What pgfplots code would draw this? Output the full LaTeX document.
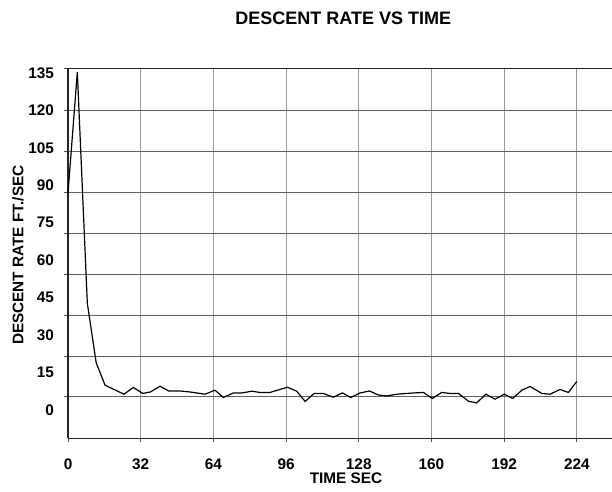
\documentclass[border=0pt]{standalone}
\usepackage{fontspec}
\setmainfont{Liberation Sans}
\usepackage{pgfplots}
\pgfplotsset{compat=1.18}

\begin{document}
\begin{tikzpicture}
\begin{axis}[
    x=1.703pt, y=1.874pt,
    xmin=0, xmax=239.5,
    ymin=-11.3, ymax=136.8,
    axis x line=box, axis y line=left,
    axis line style={-, black!85, line width=0.8pt},
    xtick={0,32,...,224},
    xtick pos=bottom,
    ytick={0,15,...,135},
    minor ytick={5.3,21.6,38.0,54.4,70.7,87.1,103.7,120.1,136.8},
    major y tick style={draw=none},
    tick align=outside,
    major tick length=3pt, minor tick length=3pt,
    tick style={black!70, line width=0.7pt},
    xmajorgrids=true, ymajorgrids=false, yminorgrids=true,
    major grid style={black!40, line width=0.7pt},
    minor grid style={black!62, line width=0.75pt},
    ticklabel style={font=\bfseries\fontsize{11.5}{12}\selectfont},
    yticklabel style={xshift=-4pt},
    xticklabel style={yshift=-9pt},
    /pgf/number format/assume math mode=true,
    clip=false
]
\addplot[black, line width=0.9pt, mark=none] coordinates {
    (0,87) (4.1,135.3) (8.5,42.8) (12.4,19) (16.3,10) (20.5,8.2) (24.6,6.4)
    (28.8,9.1) (32.9,6.7) (36.3,7.3) (40.5,9.6) (44.3,7.7) (49.3,7.7)
    (53.7,7.3) (60.3,6.4) (64.7,8.0) (68.4,5.1) (72.8,6.9) (76.5,6.9)
    (80.9,7.6) (84.5,7.1) (88.9,7.1) (93.3,8.3) (96.6,9.2) (100.7,7.6)
    (104.4,3.5) (108.3,6.7) (112.4,6.7) (116.8,5.2) (120.8,6.9) (124.5,5.1)
    (128.6,6.9) (132.7,7.7) (136.6,6.1) (140.3,5.7) (144.7,6.4) (152,6.9)
    (156.5,7.1) (160.4,4.7) (164.5,7.1) (168.2,6.7) (171.9,6.7) (176.3,3.6)
    (179.9,2.9) (184,6.4) (188,4.4) (192,6.4) (195.8,4.7) (199.8,8.0)
    (203.4,9.5) (208.6,6.7) (212.2,6.4) (216.6,8.3) (220.3,7.1) (224,11.5)
};
\coordinate (bl) at (rel axis cs:0,0);
\coordinate (tr) at (rel axis cs:1,1);
\coordinate (tt) at (rel axis cs:0.506,1);
\coordinate (xl) at (rel axis cs:0.511,0);
\coordinate (yl) at (rel axis cs:0,0.495);
\end{axis}
\node[anchor=base, font=\bfseries\fontsize{13.5}{14}\selectfont]
    at ([yshift=32.5pt]tt) {DESCENT RATE VS TIME};
\node[anchor=base, font=\bfseries\fontsize{11.5}{12}\selectfont]
    at ([yshift=-34pt]xl) {TIME SEC};
\node[anchor=base, rotate=90, font=\bfseries\fontsize{11.5}{12}\selectfont]
    at ([xshift=-33.5pt]yl) {DESCENT RATE FT./SEC};
\pgfresetboundingbox
\path ([xshift=-51pt, yshift=-39.5pt]bl) rectangle ([yshift=51.2pt]tr);
\end{tikzpicture}
\end{document}
